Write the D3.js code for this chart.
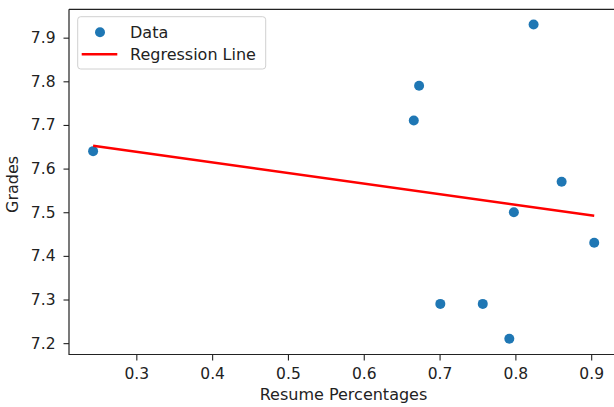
<!DOCTYPE html>
<html>
<head>
<meta charset="utf-8">
<script src="https://cdn.jsdelivr.net/npm/d3@7"></script>
<style>
  html, body { margin: 0; padding: 0; background: #fff; }
  svg { display: block; font-family: "DejaVu Sans", sans-serif; }
</style>
</head>
<body>
<svg id="chart" width="614" height="407"></svg>
<script>
// Resume score vs. grade for each student
const resumePct = [0.243, 0.666, 0.673, 0.824, 0.861, 0.798, 0.904, 0.701, 0.757, 0.792];
const grades    = [7.64, 7.71, 7.79, 7.93, 7.57, 7.50, 7.43, 7.29, 7.29, 7.21];

const xTicks = [0.3, 0.4, 0.5, 0.6, 0.7, 0.8, 0.9];
const yTicks = [7.2, 7.3, 7.4, 7.5, 7.6, 7.7, 7.8, 7.9];
const xLimits = [0.2112, 0.938];
const yLimits = [7.174, 7.965];

const legendLabels = ["Data", "Regression Line"];

// Least-squares fit of grade on resume percentage
const mx = d3.mean(resumePct), my = d3.mean(grades);
const slope = d3.sum(resumePct, (v, i) => (v - mx) * (grades[i] - my)) /
              d3.sum(resumePct, v => (v - mx) * (v - mx));
const intercept = my - slope * mx;
const fitX = d3.extent(resumePct);
const fitLine = fitX.map(v => ({ x: v, y: intercept + slope * v }));

const svg = d3.select("#chart");
const plotLeft = 69, plotRight = 620, plotTop = 9.3, plotBottom = 354.5;
const tickFont = 15.5, labelFont = 16;

const x = d3.scaleLinear().domain(xLimits).range([plotLeft, plotRight]);
const y = d3.scaleLinear().domain(yLimits).range([plotBottom, plotTop]);

svg.append("rect").attr("width", 614).attr("height", 407).attr("fill", "#fff");

// Scatter points
svg.append("g").selectAll("circle")
  .data(resumePct.map((v, i) => ({ x: v, y: grades[i] })))
  .join("circle")
  .attr("cx", d => x(d.x))
  .attr("cy", d => y(d.y))
  .attr("r", 5)
  .attr("fill", "#1f77b4");

// Regression line
svg.append("path")
  .datum(fitLine)
  .attr("fill", "none")
  .attr("stroke", "#ff0000")
  .attr("stroke-width", 2.6)
  .attr("d", d3.line().x(d => x(d.x)).y(d => y(d.y)));

// Axes
const xAxis = d3.axisBottom(x).tickValues(xTicks).tickSize(6).tickPadding(7)
  .tickFormat(d3.format(".1f"));
const yAxis = d3.axisLeft(y).tickValues(yTicks).tickSize(5.5).tickPadding(8)
  .tickFormat(d3.format(".1f"));

const gx = svg.append("g").attr("transform", `translate(0,${plotBottom})`).call(xAxis);
const gy = svg.append("g").attr("transform", `translate(${plotLeft},0)`).call(yAxis);

[gx, gy].forEach(g => {
  g.select(".domain").remove();
  g.selectAll(".tick line").attr("stroke", "#222").attr("stroke-width", 1.1);
  g.selectAll(".tick text").attr("fill", "#222").style("font-size", tickFont + "px")
    .style("font-family", "DejaVu Sans");
});

// Spines
svg.append("path")
  .attr("d", `M${plotLeft},${plotTop}H${plotRight}M${plotLeft},${plotTop}V${plotBottom}H${plotRight}`)
  .attr("fill", "none").attr("stroke", "#222").attr("stroke-width", 1.2);

// Axis labels
svg.append("text")
  .attr("x", (plotLeft + plotRight) / 2 - 1).attr("y", 400)
  .attr("text-anchor", "middle").attr("fill", "#222")
  .style("font-size", labelFont + "px")
  .text("Resume Percentages");

svg.append("text")
  .attr("transform", `translate(18,${(plotTop + plotBottom) / 2 + 2.5}) rotate(-90)`)
  .attr("text-anchor", "middle").attr("fill", "#222")
  .style("font-size", labelFont + "px")
  .text("Grades");

// Legend
const lg = svg.append("g");
lg.append("rect")
  .attr("x", 77.7).attr("y", 16.7).attr("width", 188).attr("height", 52.3)
  .attr("rx", 3).attr("fill", "#fff").attr("fill-opacity", 0.8)
  .attr("stroke", "#d0d0d0").attr("stroke-width", 1);
lg.append("circle").attr("cx", 100).attr("cy", 32.3).attr("r", 5).attr("fill", "#1f77b4");
lg.append("line").attr("x1", 81.7).attr("x2", 117.3).attr("y1", 54.3).attr("y2", 54.3)
  .attr("stroke", "#ff0000").attr("stroke-width", 2.6);
lg.selectAll("text.lbl").data(legendLabels).join("text")
  .attr("class", "lbl")
  .attr("x", 130).attr("y", (d, i) => 37.5 + i * 22.7)
  .attr("fill", "#222").style("font-size", labelFont + "px")
  .text(d => d);
</script>
</body>
</html>
